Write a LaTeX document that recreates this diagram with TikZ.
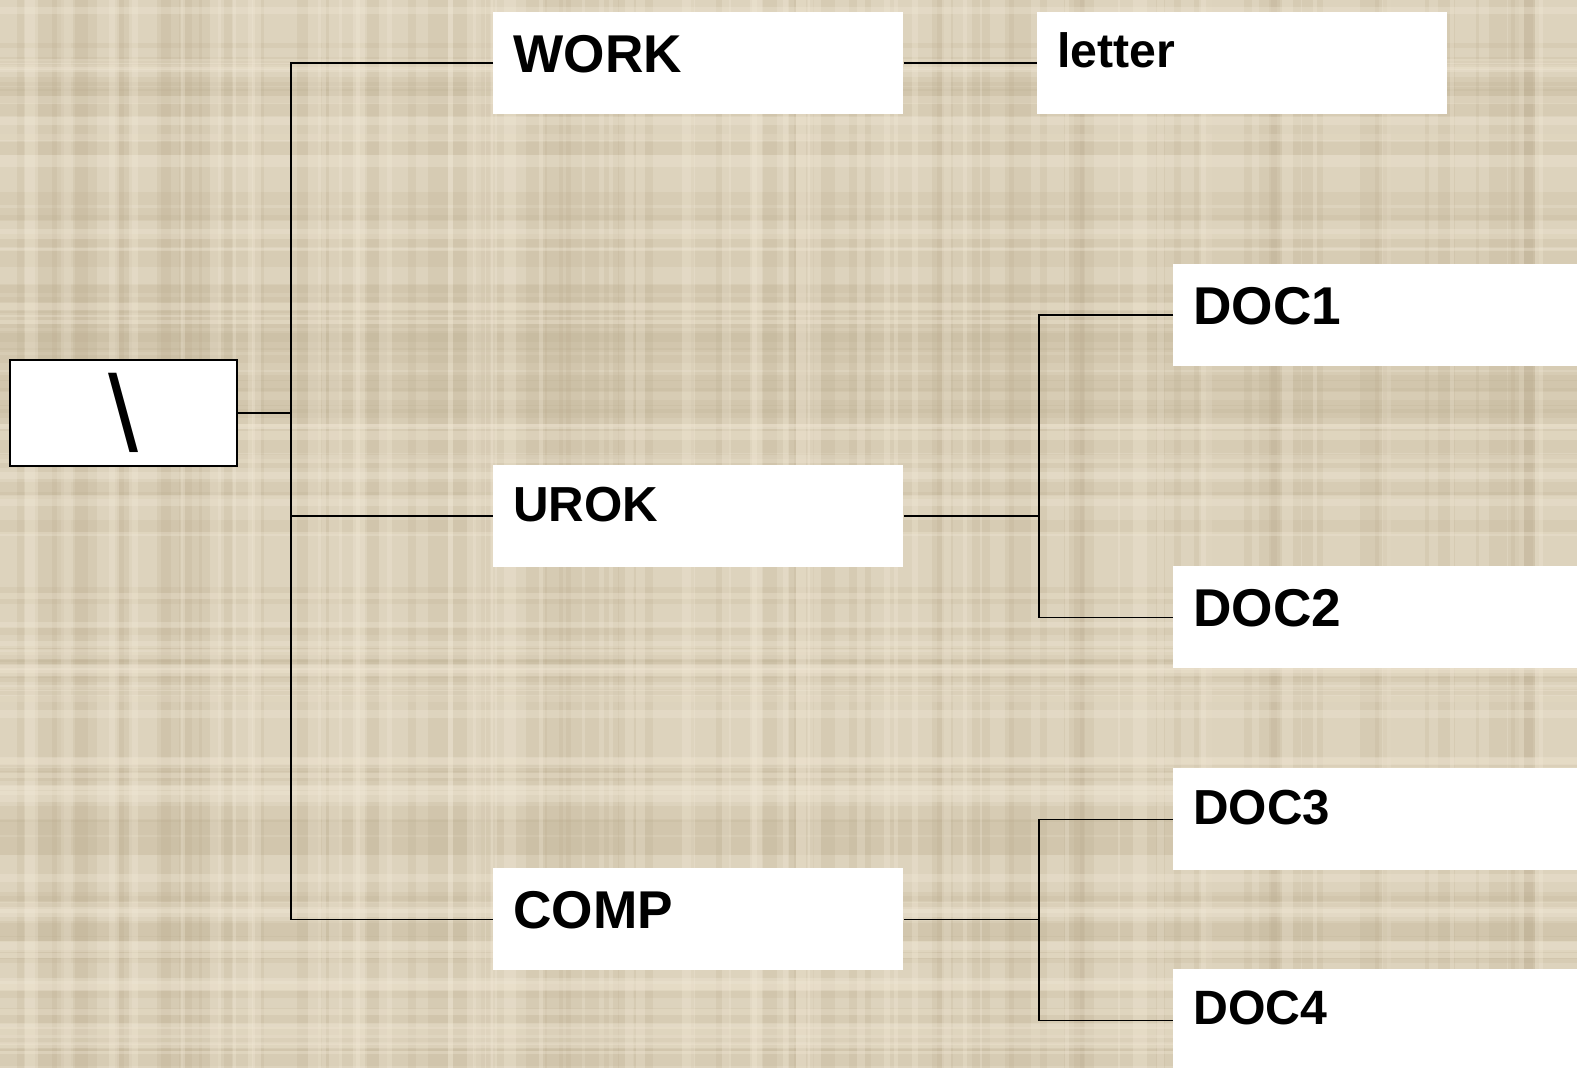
\documentclass[tikz,border=0pt]{standalone}
\usepackage{fontspec}
\setmainfont{Liberation Sans}
\usepackage{xcolor}
\usetikzlibrary{positioning}

\definecolor{bgbase}{RGB}{221,211,189}
\definecolor{bgdark}{RGB}{184,168,138}
\definecolor{bglight}{RGB}{243,234,216}

\tikzset{
  dirbox/.style={fill=white,anchor=north west,inner xsep=10pt,inner ysep=0pt,
    text width=185pt,align=left,text height=30pt,text depth=21pt,
    font=\bfseries\fontsize{26.6}{30}\selectfont},
  dirmid/.style={dirbox,text height=28pt,text depth=23pt,
    font=\bfseries\fontsize{24.6}{28}\selectfont},
  dirsmall/.style={dirbox,text height=27.5pt,text depth=23.5pt,
    font=\bfseries\fontsize{24.1}{27}\selectfont},
  rootbox/.style={draw,fill=white,line width=1pt,minimum width=113.5pt,
    minimum height=53pt,inner sep=0pt,font=\fontsize{54}{54}\selectfont},
  link/.style={line width=0.9pt}
}

\begin{document}
\begin{tikzpicture}[x=0.5pt,y=-0.5pt]
\useasboundingbox (0,0) rectangle (1577,1068);
\clip (0,0) rectangle (1577,1068);
\fill[bgbase] (0,0) rectangle (1577,1068);
% woven background
\pgfmathsetseed{12}
\foreach \i in {1,...,70}{
  \pgfmathsetmacro\xx{rnd*1577}
  \pgfmathsetmacro\ww{3+rnd*20}
  \fill[bgdark,opacity=0.18] (\xx,0) rectangle ++(\ww,1068);
}
\foreach \i in {1,...,70}{
  \pgfmathsetmacro\yy{rnd*1068}
  \pgfmathsetmacro\hh{3+rnd*16}
  \fill[bgdark,opacity=0.16] (0,\yy) rectangle ++(1577,\hh);
}
\foreach \i in {1,...,50}{
  \pgfmathsetmacro\xx{rnd*1577}
  \pgfmathsetmacro\ww{2+rnd*12}
  \fill[bglight,opacity=0.3] (\xx,0) rectangle ++(\ww,1068);
}
\foreach \i in {1,...,50}{
  \pgfmathsetmacro\yy{rnd*1068}
  \pgfmathsetmacro\hh{2+rnd*10}
  \fill[bglight,opacity=0.3] (0,\yy) rectangle ++(1577,\hh);
}

% directory tree
\node[rootbox] (root) at (123.5,413) {\textbackslash};
\node[dirbox] (work) at (493,12) {WORK};
\node[dirsmall] (letter) at (1037,12) {letter};
\node[dirmid] (urok) at (493,465) {UROK};
\node[dirbox] (comp) at (493,868) {COMP};
\node[dirbox] (doc1) at (1173,264) {DOC1};
\node[dirbox] (doc2) at (1173,566) {DOC2};
\node[dirmid] (doc3) at (1173,768) {DOC3};
\node[dirsmall] (doc4) at (1173,969) {DOC4};

\draw[link] (root.east) -- ++(53,0) coordinate (trunk);
\draw[link] (work.west) -| (trunk) |- (comp.west);
\draw[link] (trunk) |- (urok.west);
\draw[link] (work.east) -- (letter.west);
\draw[link] (urok.east) -- ++(135,0) coordinate (forku);
\draw[link] (doc1.west) -| (forku) |- (doc2.west);
\draw[link] (comp.east) -- ++(135,0) coordinate (forkc);
\draw[link] (doc3.west) -| (forkc) |- (doc4.west);
\end{tikzpicture}
\end{document}
